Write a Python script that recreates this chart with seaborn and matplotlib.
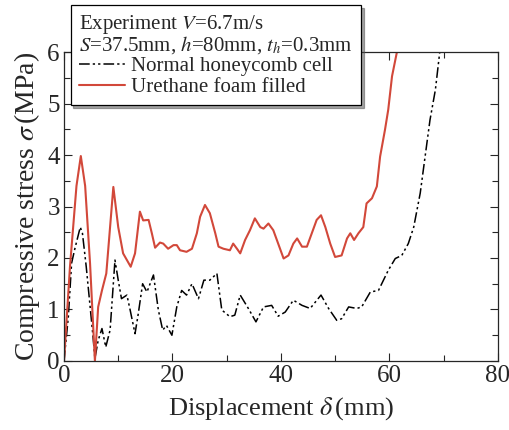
import numpy as np
import pandas as pd
import matplotlib
matplotlib.use("Agg")
import matplotlib.pyplot as plt
import seaborn as sns
from matplotlib.ticker import MultipleLocator

sns.set_theme(style="ticks")
plt.rcParams["font.family"] = ["Liberation Serif", "DejaVu Serif"]
plt.rcParams["mathtext.fontset"] = "stix"

red_x = [0, 1.1, 2.3, 3.1, 3.9, 4.8, 5.7, 6.3, 7.0, 7.8, 9.1, 10.0, 10.9, 11.6, 12.3, 13.1, 14.0,
         14.6, 15.6, 16.2, 16.8, 17.7, 18.3, 19.2, 20.2, 20.8, 21.4, 22.6, 23.6, 24.5, 25.1, 26.0,
         26.9, 27.9, 28.5, 29.4, 30.6, 31.2, 31.9, 32.5, 33.4, 34.3, 35.2, 36.2, 36.8, 37.7, 38.6,
         39.5, 40.5, 41.4, 42.3, 43.0, 43.9, 44.8, 45.7, 46.6, 47.4, 48.2, 49.1, 50.0, 51.2, 52.2,
         52.8, 53.5, 54.3, 55.2, 55.8, 56.8, 57.7, 58.3, 59.2, 59.8, 60.5, 61.4]
red_y = [0, 1.83, 3.4, 3.98, 3.4, 1.9, 0.0, 1.05, 1.37, 1.7, 3.38, 2.6, 2.09, 1.96, 1.83, 2.09, 2.9,
         2.73, 2.74, 2.48, 2.2, 2.3, 2.28, 2.18, 2.25, 2.25, 2.15, 2.12, 2.18, 2.48, 2.8, 3.03,
         2.87, 2.48, 2.22, 2.18, 2.15, 2.28, 2.18, 2.09, 2.35, 2.54, 2.77, 2.6, 2.57, 2.67, 2.54,
         2.28, 1.99, 2.05, 2.28, 2.38, 2.22, 2.22, 2.48, 2.74, 2.83, 2.6, 2.28, 2.02, 2.05, 2.38,
         2.48, 2.35, 2.48, 2.6, 3.06, 3.16, 3.39, 3.97, 4.49, 4.88, 5.53, 6.0]

blk_x = [0, 0.8, 1.4, 2.0, 3.0, 3.4, 4.1, 4.7, 5.3, 5.7, 6.3, 7.0, 7.7, 8.5, 9.4, 10.0, 10.6, 11.6,
         12.2, 13.1, 13.7, 14.5, 15.3, 16.5, 17.4, 18.2, 18.9, 19.9, 20.8, 21.7, 22.6, 23.6, 24.8,
         25.8, 26.9, 28.2, 29.1, 30.6, 31.5, 32.5, 34.0, 35.4, 36.8, 38.3, 39.5, 40.8, 42.3, 43.9,
         45.4, 47.4, 48.8, 50.3, 51.2, 52.5, 54.0, 54.9, 56.5, 58.0, 59.8, 61.1, 62.3, 63.5, 64.5,
         65.7, 66.6, 67.5, 68.5, 69.3]
blk_y = [0, 0.86, 1.9, 2.18, 2.6, 2.48, 1.83, 1.18, 0.53, 0.05, 0.4, 0.63, 0.27, 0.6, 1.96, 1.57,
         1.21, 1.28, 0.99, 0.53, 0.92, 1.5, 1.34, 1.67, 0.99, 0.6, 0.69, 0.5, 1.05, 1.37, 1.28, 1.5,
         1.21, 1.57, 1.57, 1.7, 0.99, 0.86, 0.89, 1.28, 1.02, 0.76, 1.05, 1.08, 0.87, 0.95, 1.18,
         1.08, 1.02, 1.28, 1.02, 0.79, 0.82, 1.05, 1.02, 1.05, 1.34, 1.37, 1.76, 1.99, 2.05, 2.28,
         2.6, 3.26, 3.97, 4.68, 5.27, 6.0]

labels = ["Normal honeycomb cell", "Urethane foam filled"]

fig = plt.figure(figsize=(5.1, 4.3), dpi=100)
ax = fig.add_axes([0.1255, 0.1605, 0.8505, 0.7185])

sns.lineplot(x=blk_x, y=blk_y, ax=ax, color="black", lw=1.1, sort=False, estimator=None,
             dashes=False, label=labels[0])
ax.lines[-1].set_dashes([7, 2, 1.5, 2, 1.5, 2])
sns.lineplot(x=red_x, y=red_y, ax=ax, color="#d2483a", lw=1.5, sort=False, estimator=None,
             label=labels[1])

ax.set_xlim(0, 80)
ax.set_ylim(0, 6)
ax.xaxis.set_major_locator(MultipleLocator(20))
ax.xaxis.set_minor_locator(MultipleLocator(10))
ax.yaxis.set_major_locator(MultipleLocator(1))
ax.yaxis.set_minor_locator(MultipleLocator(0.5))
ax.tick_params(which="both", direction="in", top=True, right=True, labelsize=18, pad=3)
ax.tick_params(which="major", length=6, width=0.8)
ax.tick_params(which="minor", length=4, width=0.8)
for sp in ax.spines.values():
    sp.set_linewidth(0.9)

ax.set_xlabel("Displacement $\\delta\\,$(mm)", fontsize=19, labelpad=6)
ax.set_ylabel("Compressive stress $\\sigma\\,$(MPa)", fontsize=20, labelpad=4)

leg = ax.legend(title="Experiment $V$=6.7m/s\n$S$=37.5mm, $h$=80mm, $t_h$=0.3mm",
                loc="upper left", bbox_to_anchor=(0.015, 1.152), fontsize=15,
                title_fontsize=15, frameon=True, fancybox=False, shadow=True,
                edgecolor="black", framealpha=1, handlelength=2.2, handletextpad=0.3,
                borderpad=0.4, labelspacing=0.05, borderaxespad=0)
leg._legend_box.align = "left"
leg.get_title().set_linespacing(0.85)
leg.get_frame().set_linewidth(0.9)
leg.set_zorder(10)

fig.savefig("out.png", dpi=100)
